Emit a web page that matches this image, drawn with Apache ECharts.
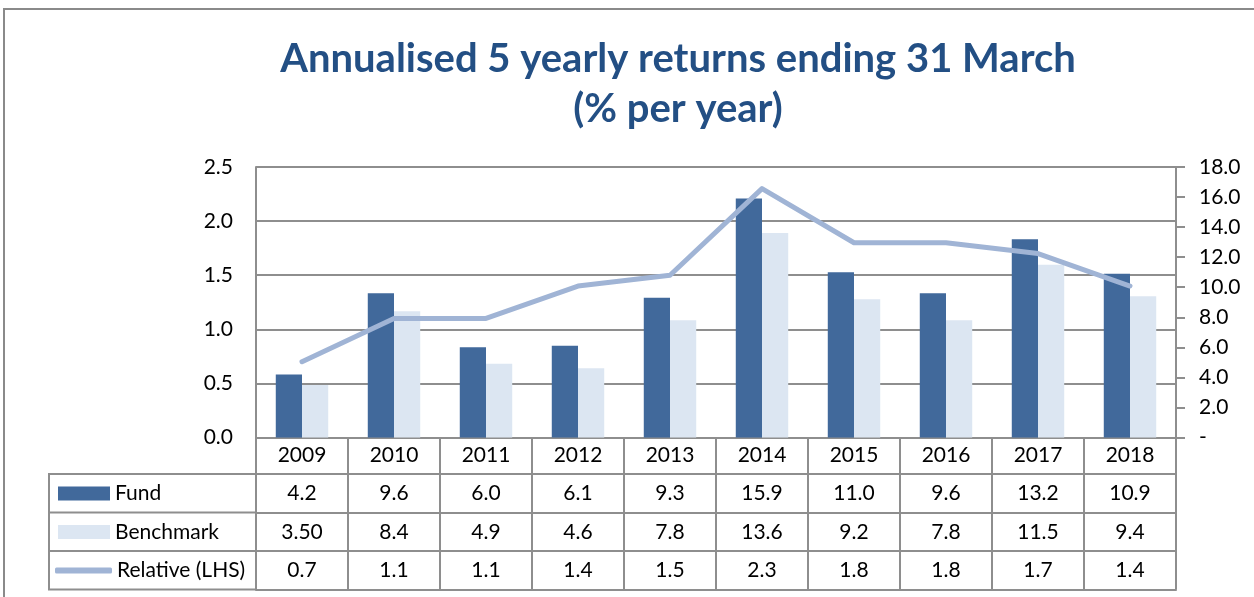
<!DOCTYPE html>
<html>
<head>
<meta charset="utf-8">
<script src="https://cdn.jsdelivr.net/npm/echarts@6/dist/echarts.min.js"></script>
<style>
  html, body { margin: 0; padding: 0; background: #ffffff; }
  #chart { width: 1254px; height: 597px; }
</style>
</head>
<body>
<div id="chart"></div>
<script>
// data
var years = ['2009', '2010', '2011', '2012', '2013', '2014', '2015', '2016', '2017', '2018'];
var fund = [4.2, 9.6, 6.0, 6.1, 9.3, 15.9, 11.0, 9.6, 13.2, 10.9];
var benchmark = [3.5, 8.4, 4.9, 4.6, 7.8, 13.6, 9.2, 7.8, 11.5, 9.4];
var relative = [0.7, 1.1, 1.1, 1.4, 1.5, 2.3, 1.8, 1.8, 1.7, 1.4];

// table rows as printed
var fundText = ['4.2', '9.6', '6.0', '6.1', '9.3', '15.9', '11.0', '9.6', '13.2', '10.9'];
var benchmarkText = ['3.50', '8.4', '4.9', '4.6', '7.8', '13.6', '9.2', '7.8', '11.5', '9.4'];
var relativeText = ['0.7', '1.1', '1.1', '1.4', '1.5', '2.3', '1.8', '1.8', '1.7', '1.4'];

var FONT = 'Lato, "Open Sans", sans-serif';
var GRAY = '#8e8e8e';
var FS = 21;

var chart = echarts.init(document.getElementById('chart'));

// grid / table geometry
var gridLeft = 256, gridRight = 1176, gridTop = 167, gridBottom = 437.5;
var rowH = [36.5, 38.5, 38.5, 38.5]; // header, fund, benchmark, relative

// one table row = one extra category axis under the grid
// (onZero off, otherwise the offset axes lose their ticks)
function tableAxis(texts, offset, tickLen, margin, show) {
  return {
    type: 'category',
    gridIndex: 0,
    position: 'bottom',
    offset: offset,
    data: years,
    boundaryGap: true,
    axisLine: { show: true, onZero: false, lineStyle: { color: GRAY, width: 2 } },
    axisTick: { show: show, inside: false, length: tickLen, interval: 0, lineStyle: { color: GRAY, width: 2 } },
    axisLabel: {
      show: show, interval: 0, margin: margin, fontSize: FS, color: '#000', fontFamily: FONT,
      formatter: function (v, i) { return texts ? texts[i] : v; }
    },
    splitLine: { show: false }
  };
}

var y1 = gridBottom + rowH[0];
var y2 = y1 + rowH[1];
var y3 = y2 + rowH[2];
var y4 = y3 + rowH[3];

var legendText = { fontSize: FS, color: '#000', fontFamily: FONT };

var option = {
  backgroundColor: '#ffffff',
  animation: false,
  title: {
    text: 'Annualised 5 yearly returns ending 31 March\n(% per year)',
    left: 673,
    textAlign: 'center',
    top: 29,
    textStyle: {
      fontFamily: FONT,
      fontWeight: 'bold',
      fontSize: 40,
      lineHeight: 50,
      color: '#234f84'
    }
  },
  legend: [
    { data: [{ name: 'Fund', icon: 'rect' }], left: 58, top: y1 + 9, padding: 0, itemWidth: 52, itemHeight: 14, textStyle: legendText },
    { data: [{ name: 'Benchmark', icon: 'rect' }], left: 58, top: y2 + 9, padding: 0, itemWidth: 52, itemHeight: 14, textStyle: legendText },
    { data: [{ name: 'Relative (LHS)', icon: 'roundRect' }], left: 55, top: y3 + 9, padding: 0, itemWidth: 57, itemHeight: 6, textStyle: legendText }
  ],
  grid: {
    left: gridLeft,
    right: 1254 - gridRight,
    top: gridTop,
    bottom: 597 - gridBottom,
    outerBoundsMode: 'none'
  },
  xAxis: [
    tableAxis(null, 0, rowH[0], 7, true),
    tableAxis(fundText, rowH[0], rowH[1], 9, true),
    tableAxis(benchmarkText, rowH[0] + rowH[1], rowH[2], 9, true),
    tableAxis(relativeText, rowH[0] + rowH[1] + rowH[2], rowH[3], 9, true),
    tableAxis(null, rowH[0] + rowH[1] + rowH[2] + rowH[3], 0, 0, false)
  ],
  yAxis: [
    {
      type: 'value',
      position: 'left',
      min: 0,
      max: 2.5,
      interval: 0.5,
      axisLine: { show: true, lineStyle: { color: GRAY, width: 2 } },
      axisTick: { show: false },
      axisLabel: {
        margin: 23,
        fontSize: FS,
        color: '#000',
        fontFamily: FONT,
        formatter: function (v) { return v.toFixed(1); }
      },
      splitLine: { show: true, lineStyle: { color: GRAY, width: 2 } }
    },
    {
      type: 'value',
      position: 'right',
      min: 0,
      max: 18,
      interval: 2,
      axisLine: { show: true, lineStyle: { color: GRAY, width: 2 } },
      axisTick: { show: true, length: 9, lineStyle: { color: GRAY, width: 2 } },
      axisLabel: {
        margin: 23,
        fontSize: FS,
        color: '#000',
        fontFamily: FONT,
        formatter: function (v) { return v === 0 ? '-' : v.toFixed(1); }
      },
      splitLine: { show: false }
    }
  ],
  series: [
    {
      name: 'Fund',
      type: 'bar',
      xAxisIndex: 0,
      yAxisIndex: 1,
      data: fund,
      barGap: '0%',
      barCategoryGap: '43%',
      itemStyle: { color: '#41699b' },
      z: 3
    },
    {
      name: 'Benchmark',
      type: 'bar',
      xAxisIndex: 0,
      yAxisIndex: 1,
      data: benchmark,
      itemStyle: { color: '#dce6f2' },
      z: 3
    },
    {
      name: 'Relative (LHS)',
      type: 'line',
      xAxisIndex: 0,
      yAxisIndex: 0,
      data: relative,
      symbol: 'none',
      lineStyle: { color: '#a0b4d5', width: 5, cap: 'round', join: 'round' },
      itemStyle: { color: '#a0b4d5' },
      z: 4
    }
  ],
  graphic: [
    // outer frame
    { type: 'rect', shape: { x: 4, y: 9, width: 1300, height: 700 }, style: { fill: 'none', stroke: '#8a8a8a', lineWidth: 2 }, silent: true },
    // label column of the data table
    { type: 'rect', shape: { x: 49, y: y1, width: gridLeft - 49, height: y4 - y1 }, style: { fill: 'none', stroke: GRAY, lineWidth: 2 }, silent: true },
    { type: 'line', shape: { x1: 49, y1: y2, x2: gridLeft, y2: y2 }, style: { stroke: GRAY, lineWidth: 2 }, silent: true },
    { type: 'line', shape: { x1: 49, y1: y3, x2: gridLeft, y2: y3 }, style: { stroke: GRAY, lineWidth: 2 }, silent: true }
  ]
};

chart.setOption(option);
</script>
</body>
</html>
